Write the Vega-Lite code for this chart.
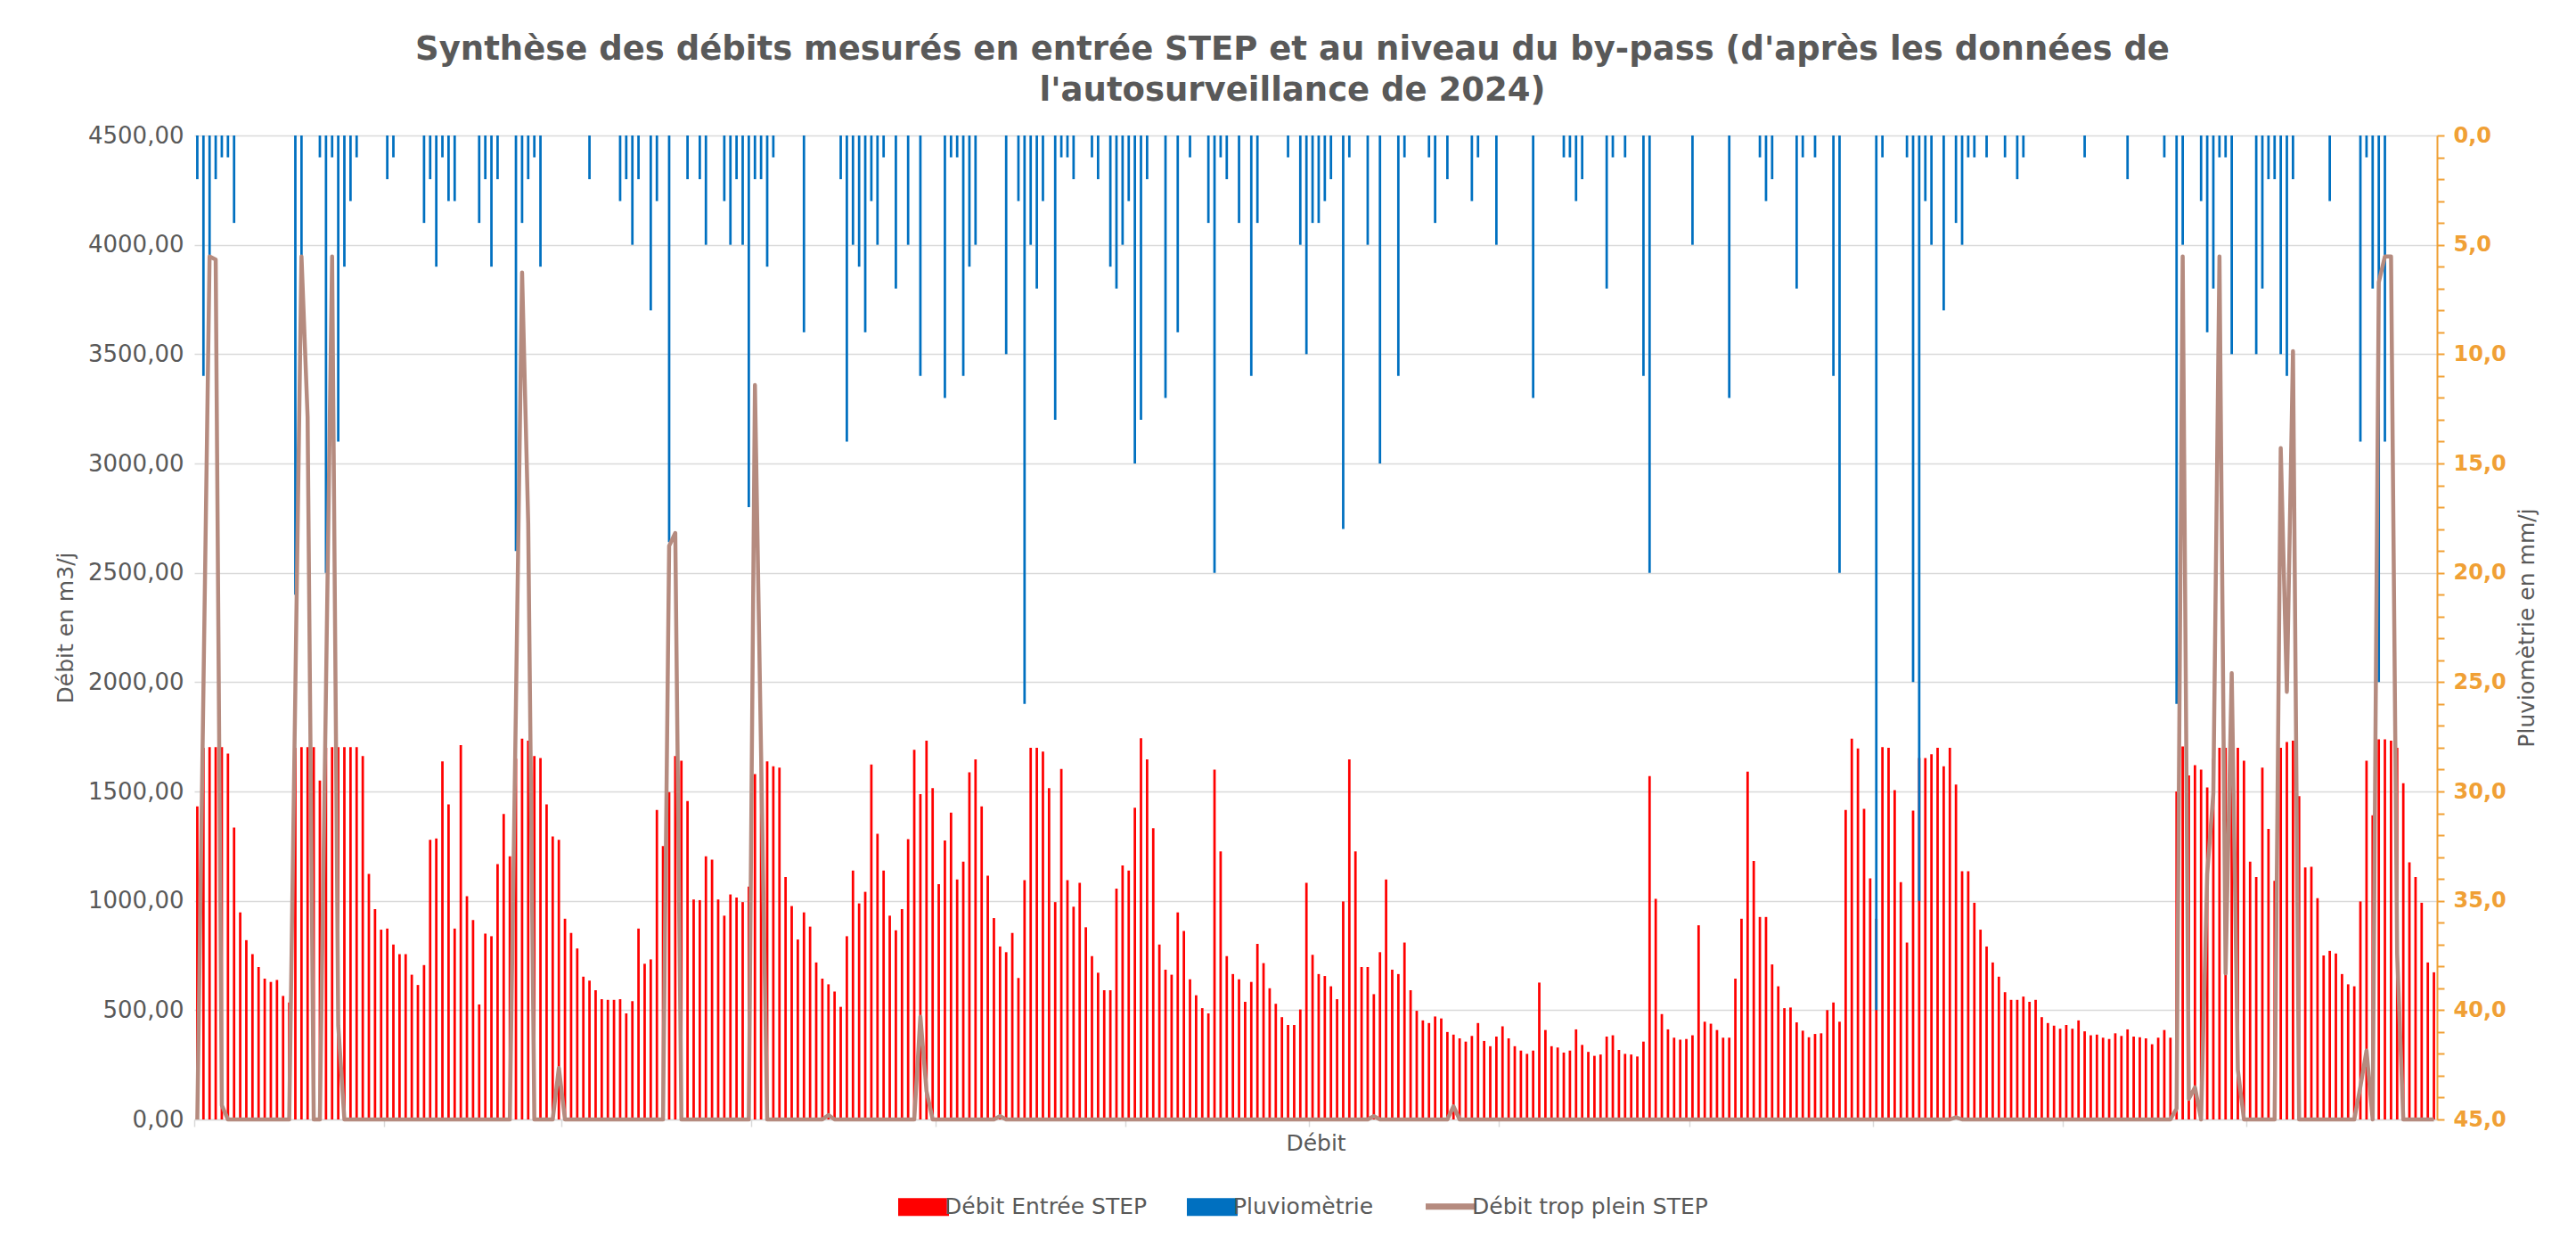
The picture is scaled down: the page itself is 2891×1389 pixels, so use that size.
{
"$schema": "https://vega.github.io/schema/vega-lite/v6.json",
"width": 2517, "height": 1104,
"autosize": {"type": "none"},
"padding": {"left": 218, "top": 152, "right": 156, "bottom": 133},
"background": "white",
"config": {"view": {"stroke": null}, "font": "DejaVu Sans"},
"title": {"text": ["Synthèse des débits mesurés en entrée STEP et au niveau du by-pass (d'après les données de", "l'autosurveillance de 2024)"], "font": "DejaVu Sans", "fontSize": 37, "fontWeight": "bold", "color": "#595959", "lineHeight": 46, "offset": 18, "dx": -26, "anchor": "middle"},
"data": {"values": [
{"jour":1,"entree":1432,"pluie":2,"trop":0},{"jour":2,"entree":1700,"pluie":11,"trop":1970},{"jour":3,"entree":1703,"pluie":5.5,"trop":3947},{"jour":4,"entree":1703,"pluie":2,"trop":3932},{"jour":5,"entree":1703,"pluie":1,"trop":65},{"jour":6,"entree":1673,"pluie":1,"trop":0},{"jour":7,"entree":1335,"pluie":4,"trop":0},{"jour":8,"entree":947,"pluie":0,"trop":0},{"jour":9,"entree":820,"pluie":0,"trop":0},{"jour":10,"entree":756,"pluie":0,"trop":0},
{"jour":11,"entree":697,"pluie":0,"trop":0},{"jour":12,"entree":644,"pluie":0,"trop":0},{"jour":13,"entree":629,"pluie":0,"trop":0},{"jour":14,"entree":638,"pluie":0,"trop":0},{"jour":15,"entree":565,"pluie":0,"trop":0},{"jour":16,"entree":535,"pluie":0,"trop":0},{"jour":17,"entree":1700,"pluie":21,"trop":1970},{"jour":18,"entree":1703,"pluie":5.5,"trop":3947},{"jour":19,"entree":1703,"pluie":0,"trop":3212},{"jour":20,"entree":1703,"pluie":0,"trop":0},
{"jour":21,"entree":1550,"pluie":1,"trop":0},{"jour":22,"entree":1700,"pluie":20,"trop":1970},{"jour":23,"entree":1703,"pluie":1,"trop":3947},{"jour":24,"entree":1703,"pluie":14,"trop":430},{"jour":25,"entree":1703,"pluie":6,"trop":0},{"jour":26,"entree":1703,"pluie":3,"trop":0},{"jour":27,"entree":1703,"pluie":1,"trop":0},{"jour":28,"entree":1662,"pluie":0,"trop":0},{"jour":29,"entree":1123,"pluie":0,"trop":0},{"jour":30,"entree":962,"pluie":0,"trop":0},
{"jour":31,"entree":868,"pluie":0,"trop":0},{"jour":32,"entree":873,"pluie":2,"trop":0},{"jour":33,"entree":800,"pluie":1,"trop":0},{"jour":34,"entree":756,"pluie":0,"trop":0},{"jour":35,"entree":756,"pluie":0,"trop":0},{"jour":36,"entree":662,"pluie":0,"trop":0},{"jour":37,"entree":615,"pluie":0,"trop":0},{"jour":38,"entree":706,"pluie":4,"trop":0},{"jour":39,"entree":1279,"pluie":2,"trop":0},{"jour":40,"entree":1285,"pluie":6,"trop":0},
{"jour":41,"entree":1638,"pluie":1,"trop":0},{"jour":42,"entree":1441,"pluie":3,"trop":0},{"jour":43,"entree":873,"pluie":3,"trop":0},{"jour":44,"entree":1712,"pluie":0,"trop":0},{"jour":45,"entree":1021,"pluie":0,"trop":0},{"jour":46,"entree":912,"pluie":0,"trop":0},{"jour":47,"entree":526,"pluie":4,"trop":0},{"jour":48,"entree":850,"pluie":2,"trop":0},{"jour":49,"entree":838,"pluie":6,"trop":0},{"jour":50,"entree":1168,"pluie":2,"trop":0},
{"jour":51,"entree":1397,"pluie":0,"trop":0},{"jour":52,"entree":1203,"pluie":0,"trop":0},{"jour":53,"entree":1650,"pluie":19,"trop":1900},{"jour":54,"entree":1741,"pluie":4,"trop":3873},{"jour":55,"entree":1732,"pluie":2,"trop":2726},{"jour":56,"entree":1662,"pluie":1,"trop":0},{"jour":57,"entree":1653,"pluie":6,"trop":0},{"jour":58,"entree":1441,"pluie":0,"trop":0},{"jour":59,"entree":1294,"pluie":0,"trop":0},{"jour":60,"entree":1279,"pluie":0,"trop":235},
{"jour":61,"entree":918,"pluie":0,"trop":0},{"jour":62,"entree":853,"pluie":0,"trop":0},{"jour":63,"entree":782,"pluie":0,"trop":0},{"jour":64,"entree":653,"pluie":0,"trop":0},{"jour":65,"entree":635,"pluie":2,"trop":0},{"jour":66,"entree":591,"pluie":0,"trop":0},{"jour":67,"entree":550,"pluie":0,"trop":0},{"jour":68,"entree":547,"pluie":0,"trop":0},{"jour":69,"entree":547,"pluie":0,"trop":0},{"jour":70,"entree":550,"pluie":3,"trop":0},
{"jour":71,"entree":485,"pluie":2,"trop":0},{"jour":72,"entree":541,"pluie":5,"trop":0},{"jour":73,"entree":873,"pluie":2,"trop":0},{"jour":74,"entree":712,"pluie":0,"trop":0},{"jour":75,"entree":732,"pluie":8,"trop":0},{"jour":76,"entree":1415,"pluie":3,"trop":0},{"jour":77,"entree":1250,"pluie":0,"trop":0},{"jour":78,"entree":1497,"pluie":18.6,"trop":2623},{"jour":79,"entree":1662,"pluie":0,"trop":2682},{"jour":80,"entree":1641,"pluie":0,"trop":0},
{"jour":81,"entree":1456,"pluie":2,"trop":0},{"jour":82,"entree":1006,"pluie":0,"trop":0},{"jour":83,"entree":1003,"pluie":2,"trop":0},{"jour":84,"entree":1203,"pluie":5,"trop":0},{"jour":85,"entree":1188,"pluie":0,"trop":0},{"jour":86,"entree":1006,"pluie":0,"trop":0},{"jour":87,"entree":932,"pluie":3,"trop":0},{"jour":88,"entree":1029,"pluie":5,"trop":0},{"jour":89,"entree":1015,"pluie":2,"trop":0},{"jour":90,"entree":994,"pluie":5,"trop":0},
{"jour":91,"entree":1065,"pluie":17,"trop":0},{"jour":92,"entree":1579,"pluie":2,"trop":3359},{"jour":93,"entree":1650,"pluie":2,"trop":1680},{"jour":94,"entree":1638,"pluie":6,"trop":0},{"jour":95,"entree":1615,"pluie":1,"trop":0},{"jour":96,"entree":1609,"pluie":0,"trop":0},{"jour":97,"entree":1109,"pluie":0,"trop":0},{"jour":98,"entree":976,"pluie":0,"trop":0},{"jour":99,"entree":823,"pluie":0,"trop":0},{"jour":100,"entree":947,"pluie":9,"trop":0},
{"jour":101,"entree":882,"pluie":0,"trop":0},{"jour":102,"entree":718,"pluie":0,"trop":0},{"jour":103,"entree":644,"pluie":0,"trop":0},{"jour":104,"entree":618,"pluie":0,"trop":20},{"jour":105,"entree":585,"pluie":0,"trop":0},{"jour":106,"entree":515,"pluie":2,"trop":0},{"jour":107,"entree":838,"pluie":14,"trop":0},{"jour":108,"entree":1138,"pluie":5,"trop":0},{"jour":109,"entree":988,"pluie":6,"trop":0},{"jour":110,"entree":1041,"pluie":9,"trop":0},
{"jour":111,"entree":1623,"pluie":3,"trop":0},{"jour":112,"entree":1306,"pluie":5,"trop":0},{"jour":113,"entree":1138,"pluie":1,"trop":0},{"jour":114,"entree":932,"pluie":0,"trop":0},{"jour":115,"entree":865,"pluie":7,"trop":0},{"jour":116,"entree":962,"pluie":0,"trop":0},{"jour":117,"entree":1282,"pluie":5,"trop":0},{"jour":118,"entree":1691,"pluie":0,"trop":0},{"jour":119,"entree":1488,"pluie":11,"trop":470},{"jour":120,"entree":1732,"pluie":0,"trop":130},
{"jour":121,"entree":1515,"pluie":0,"trop":0},{"jour":122,"entree":1076,"pluie":0,"trop":0},{"jour":123,"entree":1276,"pluie":12,"trop":0},{"jour":124,"entree":1403,"pluie":1,"trop":0},{"jour":125,"entree":1097,"pluie":1,"trop":0},{"jour":126,"entree":1179,"pluie":11,"trop":0},{"jour":127,"entree":1588,"pluie":6,"trop":0},{"jour":128,"entree":1647,"pluie":5,"trop":0},{"jour":129,"entree":1432,"pluie":0,"trop":0},{"jour":130,"entree":1115,"pluie":0,"trop":0},
{"jour":131,"entree":921,"pluie":0,"trop":0},{"jour":132,"entree":791,"pluie":0,"trop":15},{"jour":133,"entree":765,"pluie":10,"trop":0},{"jour":134,"entree":853,"pluie":0,"trop":0},{"jour":135,"entree":647,"pluie":3,"trop":0},{"jour":136,"entree":1094,"pluie":26,"trop":0},{"jour":137,"entree":1700,"pluie":5,"trop":0},{"jour":138,"entree":1700,"pluie":7,"trop":0},{"jour":139,"entree":1682,"pluie":3,"trop":0},{"jour":140,"entree":1515,"pluie":0,"trop":0},
{"jour":141,"entree":994,"pluie":13,"trop":0},{"jour":142,"entree":1603,"pluie":1,"trop":0},{"jour":143,"entree":1094,"pluie":1,"trop":0},{"jour":144,"entree":973,"pluie":2,"trop":0},{"jour":145,"entree":1082,"pluie":0,"trop":0},{"jour":146,"entree":879,"pluie":0,"trop":0},{"jour":147,"entree":747,"pluie":1,"trop":0},{"jour":148,"entree":671,"pluie":2,"trop":0},{"jour":149,"entree":591,"pluie":0,"trop":0},{"jour":150,"entree":591,"pluie":6,"trop":0},
{"jour":151,"entree":1056,"pluie":7,"trop":0},{"jour":152,"entree":1162,"pluie":5,"trop":0},{"jour":153,"entree":1138,"pluie":3,"trop":0},{"jour":154,"entree":1426,"pluie":15,"trop":0},{"jour":155,"entree":1744,"pluie":13,"trop":0},{"jour":156,"entree":1647,"pluie":2,"trop":0},{"jour":157,"entree":1332,"pluie":0,"trop":0},{"jour":158,"entree":800,"pluie":0,"trop":0},{"jour":159,"entree":685,"pluie":12,"trop":0},{"jour":160,"entree":662,"pluie":0,"trop":0},
{"jour":161,"entree":947,"pluie":9,"trop":0},{"jour":162,"entree":862,"pluie":0,"trop":0},{"jour":163,"entree":641,"pluie":1,"trop":0},{"jour":164,"entree":568,"pluie":0,"trop":0},{"jour":165,"entree":509,"pluie":0,"trop":0},{"jour":166,"entree":485,"pluie":4,"trop":0},{"jour":167,"entree":1600,"pluie":20,"trop":0},{"jour":168,"entree":1226,"pluie":1,"trop":0},{"jour":169,"entree":747,"pluie":2,"trop":0},{"jour":170,"entree":665,"pluie":0,"trop":0},
{"jour":171,"entree":641,"pluie":4,"trop":0},{"jour":172,"entree":538,"pluie":0,"trop":0},{"jour":173,"entree":629,"pluie":11,"trop":0},{"jour":174,"entree":803,"pluie":4,"trop":0},{"jour":175,"entree":715,"pluie":0,"trop":0},{"jour":176,"entree":600,"pluie":0,"trop":0},{"jour":177,"entree":529,"pluie":0,"trop":0},{"jour":178,"entree":468,"pluie":0,"trop":0},{"jour":179,"entree":432,"pluie":1,"trop":0},{"jour":180,"entree":432,"pluie":0,"trop":0},
{"jour":181,"entree":503,"pluie":5,"trop":0},{"jour":182,"entree":1082,"pluie":10,"trop":0},{"jour":183,"entree":753,"pluie":4,"trop":0},{"jour":184,"entree":665,"pluie":4,"trop":0},{"jour":185,"entree":656,"pluie":3,"trop":0},{"jour":186,"entree":609,"pluie":2,"trop":0},{"jour":187,"entree":550,"pluie":0,"trop":0},{"jour":188,"entree":997,"pluie":18,"trop":0},{"jour":189,"entree":1647,"pluie":1,"trop":0},{"jour":190,"entree":1226,"pluie":0,"trop":0},
{"jour":191,"entree":697,"pluie":0,"trop":0},{"jour":192,"entree":697,"pluie":5,"trop":0},{"jour":193,"entree":573,"pluie":0,"trop":15},{"jour":194,"entree":765,"pluie":15,"trop":0},{"jour":195,"entree":1097,"pluie":0,"trop":0},{"jour":196,"entree":685,"pluie":0,"trop":0},{"jour":197,"entree":665,"pluie":11,"trop":0},{"jour":198,"entree":809,"pluie":1,"trop":0},{"jour":199,"entree":591,"pluie":0,"trop":0},{"jour":200,"entree":497,"pluie":0,"trop":0},
{"jour":201,"entree":453,"pluie":0,"trop":0},{"jour":202,"entree":441,"pluie":1,"trop":0},{"jour":203,"entree":471,"pluie":4,"trop":0},{"jour":204,"entree":462,"pluie":0,"trop":0},{"jour":205,"entree":400,"pluie":2,"trop":0},{"jour":206,"entree":388,"pluie":0,"trop":60},{"jour":207,"entree":371,"pluie":0,"trop":0},{"jour":208,"entree":356,"pluie":0,"trop":0},{"jour":209,"entree":382,"pluie":3,"trop":0},{"jour":210,"entree":441,"pluie":1,"trop":0},
{"jour":211,"entree":359,"pluie":0,"trop":0},{"jour":212,"entree":335,"pluie":0,"trop":0},{"jour":213,"entree":379,"pluie":5,"trop":0},{"jour":214,"entree":426,"pluie":0,"trop":0},{"jour":215,"entree":371,"pluie":0,"trop":0},{"jour":216,"entree":335,"pluie":0,"trop":0},{"jour":217,"entree":315,"pluie":0,"trop":0},{"jour":218,"entree":300,"pluie":0,"trop":0},{"jour":219,"entree":315,"pluie":12,"trop":0},{"jour":220,"entree":626,"pluie":0,"trop":0},
{"jour":221,"entree":409,"pluie":0,"trop":0},{"jour":222,"entree":335,"pluie":0,"trop":0},{"jour":223,"entree":329,"pluie":0,"trop":0},{"jour":224,"entree":306,"pluie":1,"trop":0},{"jour":225,"entree":315,"pluie":1,"trop":0},{"jour":226,"entree":412,"pluie":3,"trop":0},{"jour":227,"entree":341,"pluie":2,"trop":0},{"jour":228,"entree":309,"pluie":0,"trop":0},{"jour":229,"entree":291,"pluie":0,"trop":0},{"jour":230,"entree":297,"pluie":0,"trop":0},
{"jour":231,"entree":379,"pluie":7,"trop":0},{"jour":232,"entree":385,"pluie":1,"trop":0},{"jour":233,"entree":318,"pluie":0,"trop":0},{"jour":234,"entree":300,"pluie":1,"trop":0},{"jour":235,"entree":297,"pluie":0,"trop":0},{"jour":236,"entree":288,"pluie":0,"trop":0},{"jour":237,"entree":356,"pluie":11,"trop":0},{"jour":238,"entree":1570,"pluie":20,"trop":0},{"jour":239,"entree":1009,"pluie":0,"trop":0},{"jour":240,"entree":482,"pluie":0,"trop":0},
{"jour":241,"entree":412,"pluie":0,"trop":0},{"jour":242,"entree":374,"pluie":0,"trop":0},{"jour":243,"entree":365,"pluie":0,"trop":0},{"jour":244,"entree":368,"pluie":0,"trop":0},{"jour":245,"entree":385,"pluie":5,"trop":0},{"jour":246,"entree":888,"pluie":0,"trop":0},{"jour":247,"entree":447,"pluie":0,"trop":0},{"jour":248,"entree":438,"pluie":0,"trop":0},{"jour":249,"entree":409,"pluie":0,"trop":0},{"jour":250,"entree":374,"pluie":0,"trop":0},
{"jour":251,"entree":374,"pluie":12,"trop":0},{"jour":252,"entree":644,"pluie":0,"trop":0},{"jour":253,"entree":918,"pluie":0,"trop":0},{"jour":254,"entree":1591,"pluie":0,"trop":0},{"jour":255,"entree":1182,"pluie":0,"trop":0},{"jour":256,"entree":926,"pluie":1,"trop":0},{"jour":257,"entree":926,"pluie":3,"trop":0},{"jour":258,"entree":709,"pluie":2,"trop":0},{"jour":259,"entree":609,"pluie":0,"trop":0},{"jour":260,"entree":509,"pluie":0,"trop":0},
{"jour":261,"entree":512,"pluie":0,"trop":0},{"jour":262,"entree":444,"pluie":7,"trop":0},{"jour":263,"entree":406,"pluie":1,"trop":0},{"jour":264,"entree":376,"pluie":0,"trop":0},{"jour":265,"entree":391,"pluie":1,"trop":0},{"jour":266,"entree":394,"pluie":0,"trop":0},{"jour":267,"entree":500,"pluie":0,"trop":0},{"jour":268,"entree":535,"pluie":11,"trop":0},{"jour":269,"entree":447,"pluie":20,"trop":0},{"jour":270,"entree":1415,"pluie":0,"trop":0},
{"jour":271,"entree":1741,"pluie":0,"trop":0},{"jour":272,"entree":1697,"pluie":0,"trop":0},{"jour":273,"entree":1421,"pluie":0,"trop":0},{"jour":274,"entree":1103,"pluie":0,"trop":0},{"jour":275,"entree":918,"pluie":40,"trop":0},{"jour":276,"entree":1703,"pluie":1,"trop":0},{"jour":277,"entree":1700,"pluie":0,"trop":0},{"jour":278,"entree":1506,"pluie":0,"trop":0},{"jour":279,"entree":1085,"pluie":0,"trop":0},{"jour":280,"entree":809,"pluie":1,"trop":0},
{"jour":281,"entree":1412,"pluie":25,"trop":0},{"jour":282,"entree":1653,"pluie":35,"trop":0},{"jour":283,"entree":1653,"pluie":3,"trop":0},{"jour":284,"entree":1670,"pluie":5,"trop":0},{"jour":285,"entree":1700,"pluie":0,"trop":0},{"jour":286,"entree":1615,"pluie":8,"trop":0},{"jour":287,"entree":1700,"pluie":0,"trop":0},{"jour":288,"entree":1532,"pluie":4,"trop":10},{"jour":289,"entree":1135,"pluie":5,"trop":0},{"jour":290,"entree":1135,"pluie":1,"trop":0},
{"jour":291,"entree":991,"pluie":1,"trop":0},{"jour":292,"entree":868,"pluie":0,"trop":0},{"jour":293,"entree":791,"pluie":1,"trop":0},{"jour":294,"entree":718,"pluie":0,"trop":0},{"jour":295,"entree":653,"pluie":0,"trop":0},{"jour":296,"entree":582,"pluie":1,"trop":0},{"jour":297,"entree":547,"pluie":0,"trop":0},{"jour":298,"entree":547,"pluie":2,"trop":0},{"jour":299,"entree":562,"pluie":1,"trop":0},{"jour":300,"entree":538,"pluie":0,"trop":0},
{"jour":301,"entree":547,"pluie":0,"trop":0},{"jour":302,"entree":468,"pluie":0,"trop":0},{"jour":303,"entree":441,"pluie":0,"trop":0},{"jour":304,"entree":429,"pluie":0,"trop":0},{"jour":305,"entree":415,"pluie":0,"trop":0},{"jour":306,"entree":432,"pluie":0,"trop":0},{"jour":307,"entree":415,"pluie":0,"trop":0},{"jour":308,"entree":453,"pluie":0,"trop":0},{"jour":309,"entree":403,"pluie":1,"trop":0},{"jour":310,"entree":385,"pluie":0,"trop":0},
{"jour":311,"entree":388,"pluie":0,"trop":0},{"jour":312,"entree":374,"pluie":0,"trop":0},{"jour":313,"entree":368,"pluie":0,"trop":0},{"jour":314,"entree":394,"pluie":0,"trop":0},{"jour":315,"entree":382,"pluie":0,"trop":0},{"jour":316,"entree":412,"pluie":2,"trop":0},{"jour":317,"entree":379,"pluie":0,"trop":0},{"jour":318,"entree":376,"pluie":0,"trop":0},{"jour":319,"entree":371,"pluie":0,"trop":0},{"jour":320,"entree":344,"pluie":0,"trop":0},
{"jour":321,"entree":374,"pluie":0,"trop":0},{"jour":322,"entree":409,"pluie":1,"trop":0},{"jour":323,"entree":374,"pluie":0,"trop":0},{"jour":324,"entree":1500,"pluie":26,"trop":50},{"jour":325,"entree":1706,"pluie":5,"trop":3947},{"jour":326,"entree":1573,"pluie":0,"trop":94},{"jour":327,"entree":1620,"pluie":0,"trop":147},{"jour":328,"entree":1600,"pluie":3,"trop":0},{"jour":329,"entree":1518,"pluie":9,"trop":1123},{"jour":330,"entree":1650,"pluie":7,"trop":1491},
{"jour":331,"entree":1700,"pluie":1,"trop":3947},{"jour":332,"entree":1700,"pluie":1,"trop":668},{"jour":333,"entree":1700,"pluie":10,"trop":2041},{"jour":334,"entree":1700,"pluie":0,"trop":226},{"jour":335,"entree":1641,"pluie":0,"trop":0},{"jour":336,"entree":1179,"pluie":0,"trop":0},{"jour":337,"entree":1109,"pluie":10,"trop":0},{"jour":338,"entree":1609,"pluie":7,"trop":0},{"jour":339,"entree":1329,"pluie":2,"trop":0},{"jour":340,"entree":1091,"pluie":2,"trop":0},
{"jour":341,"entree":1700,"pluie":10,"trop":3070},{"jour":342,"entree":1726,"pluie":11,"trop":1956},{"jour":343,"entree":1732,"pluie":2,"trop":3514},{"jour":344,"entree":1479,"pluie":0,"trop":0},{"jour":345,"entree":1153,"pluie":0,"trop":0},{"jour":346,"entree":1156,"pluie":0,"trop":0},{"jour":347,"entree":1012,"pluie":0,"trop":0},{"jour":348,"entree":750,"pluie":0,"trop":0},{"jour":349,"entree":771,"pluie":3,"trop":0},{"jour":350,"entree":759,"pluie":0,"trop":0},
{"jour":351,"entree":665,"pluie":0,"trop":0},{"jour":352,"entree":618,"pluie":0,"trop":0},{"jour":353,"entree":609,"pluie":0,"trop":0},{"jour":354,"entree":997,"pluie":14,"trop":150},{"jour":355,"entree":1641,"pluie":1,"trop":315},{"jour":356,"entree":1391,"pluie":7,"trop":0},{"jour":357,"entree":1738,"pluie":25,"trop":3829},{"jour":358,"entree":1738,"pluie":14,"trop":3947},{"jour":359,"entree":1732,"pluie":0,"trop":3947},{"jour":360,"entree":1700,"pluie":0,"trop":756},
{"jour":361,"entree":1538,"pluie":0,"trop":0},{"jour":362,"entree":1176,"pluie":0,"trop":0},{"jour":363,"entree":1109,"pluie":0,"trop":0},{"jour":364,"entree":991,"pluie":0,"trop":0},{"jour":365,"entree":718,"pluie":0,"trop":0},{"jour":366,"entree":673,"pluie":0,"trop":0}
]},
"encoding": {
  "x": {"field": "jour", "type": "ordinal", "sort": "ascending",
    "scale": {"paddingInner": 0, "paddingOuter": 0},
    "axis": {"title": "Débit", "labels": false, "values": [1,32,61,92,122,153,183,214,245,275,306,336], "bandPosition": 0,
      "ticks": true, "tickColor": "#D9D9D9", "tickSize": 8, "tickWidth": 1.5, "domainColor": "#D9D9D9", "domainWidth": 1.5, "grid": false,
      "titleFont": "DejaVu Sans", "titleFontSize": 25, "titleColor": "#595959", "titleFontWeight": "normal", "titlePadding": 6}}
},
"layer": [
  {"mark": {"type": "bar", "width": {"band": 0.4}},
   "encoding": {
     "y": {"field": "entree", "type": "quantitative", "scale": {"domain": [0, 4500]},
       "axis": {"orient": "left", "title": "Débit en m3/j", "values": [0,500,1000,1500,2000,2500,3000,3500,4000,4500],
         "labelExpr": "replace(format(datum.value, '.2f'), '.', ',')", "grid": true, "gridColor": "#D9D9D9", "gridWidth": 1.5,
         "domain": false, "ticks": false, "labelFont": "DejaVu Sans", "labelFontSize": 26, "labelColor": "#595959", "labelPadding": 12,
         "titleFont": "DejaVu Sans", "titleFontSize": 25, "titleColor": "#595959", "titleFontWeight": "normal", "titlePadding": 12}},
     "color": {"datum": "Débit Entrée STEP",
       "scale": {"domain": ["Débit Entrée STEP", "Pluviomètrie", "Débit trop plein STEP"], "range": ["#FF0000", "#0070C0", "#B58B7F"]},
       "legend": {"orient": "none", "legendX": 806, "legendY": 1189, "direction": "horizontal", "title": null,
         "labelFont": "DejaVu Sans", "labelFontSize": 25, "labelColor": "#595959", "labelOffset": 11, "labelLimit": 600, "columnPadding": 44, "padding": 0,
         "symbolSize": 3249, "symbolType": "M-1,-0.35H1V0.35H-1Z", "symbolStrokeWidth": 0,
         "encode": {"symbols": {"update": {
           "shape": {"signal": "datum.value === 'Débit trop plein STEP' ? 'stroke' : 'M-1,-0.35H1V0.35H-1Z'"},
           "fill": {"signal": "datum.value === 'Débit trop plein STEP' ? 'transparent' : scale('color', datum.value)"},
           "stroke": {"signal": "scale('color', datum.value)"},
           "strokeWidth": {"signal": "datum.value === 'Débit trop plein STEP' ? 7 : 0"},
           "opacity": {"value": 1}}}}}}
   }},
  {"mark": {"type": "bar", "width": {"band": 0.4}},
   "encoding": {
     "y": {"field": "pluie", "type": "quantitative", "scale": {"domain": [0, 45], "reverse": true},
       "axis": {"orient": "right", "title": "Pluviomètrie en mm/j", "values": [0,1,2,3,4,5,6,7,8,9,10,11,12,13,14,15,16,17,18,19,20,21,22,23,24,25,26,27,28,29,30,31,32,33,34,35,36,37,38,39,40,41,42,43,44,45],
         "labelExpr": "datum.value % 5 === 0 ? replace(format(datum.value, '.1f'), '.', ',') : ''", "labelOverlap": false, "grid": false,
         "domainColor": "#F0A035", "domainWidth": 2, "tickColor": "#F0A035", "tickWidth": 2, "tickSize": 8,
         "labelFont": "DejaVu Sans", "labelColor": "#F0A035", "labelFontWeight": "bold", "labelFontSize": 24, "labelPadding": 10,
         "titleFont": "DejaVu Sans", "titleFontSize": 25, "titleColor": "#595959", "titleFontWeight": "normal", "titleAngle": 270, "titlePadding": 36}},
     "color": {"datum": "Pluviomètrie"}
   }},
  {"mark": {"type": "line", "strokeWidth": 4.5, "strokeJoin": "round"},
   "encoding": {
     "y": {"field": "trop", "type": "quantitative", "scale": {"domain": [0, 4500]}, "axis": null},
     "color": {"datum": "Débit trop plein STEP"}
   }}
],
"resolve": {"scale": {"y": "independent"}}
}
